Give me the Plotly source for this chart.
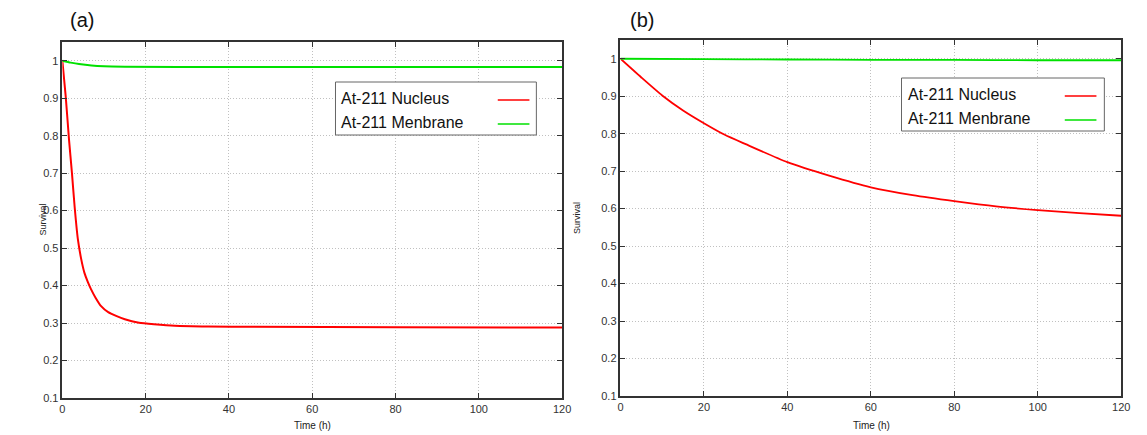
import plotly.graph_objects as go

# ---------------- data ----------------
# Panel (a)
a_nucleus_t = [0, 0.8, 1.6, 2.3, 2.94, 3.73, 4.5, 5.3, 6.1, 6.9, 8.0, 9.3, 11.0, 12.9, 15.0, 18.4, 22, 27, 35, 46, 80, 120]
a_nucleus_s = [1.0, 0.905, 0.789, 0.70, 0.611, 0.523, 0.472, 0.434, 0.410, 0.390, 0.367, 0.345, 0.329, 0.319, 0.310, 0.301, 0.297, 0.293, 0.291, 0.290, 0.289, 0.288]
a_membrane_t = [0, 2, 4, 7, 10, 15, 40, 80, 120]
a_membrane_s = [1.0, 0.995, 0.991, 0.987, 0.985, 0.984, 0.983, 0.983, 0.983]

# Panel (b)
b_nucleus_t = [0, 5, 10, 15, 20, 25, 30, 40, 50, 60, 70, 80, 90, 100, 110, 120]
b_nucleus_s = [1.0, 0.950, 0.902, 0.862, 0.828, 0.797, 0.772, 0.724, 0.688, 0.657, 0.636, 0.620, 0.606, 0.596, 0.588, 0.581]
b_membrane_t = [0, 20, 40, 60, 80, 100, 120]
b_membrane_s = [1.0, 0.999, 0.998, 0.997, 0.997, 0.996, 0.996]

series_names = ["At-211 Nucleus", "At-211 Menbrane"]
panel_titles = ["(a)", "(b)"]
x_title = "Time (h)"
y_title = "Survival"
x_ticks = [0, 20, 40, 60, 80, 100, 120]
y_ticks = [0.1, 0.2, 0.3, 0.4, 0.5, 0.6, 0.7, 0.8, 0.9, 1.0]

RED = "rgb(255,0,0)"
GREEN = "rgb(0,225,0)"

W, H = 1147, 435
MT, MB = 40, 37
PH = H - MT - MB


def px(x):
    return x / W


def py(y):
    return (H - MB - y) / PH


fig = go.Figure()

fig.add_trace(go.Scatter(x=a_nucleus_t, y=a_nucleus_s, mode="lines", line=dict(color=RED, width=2, shape="spline", smoothing=0.5),
                         name=series_names[0], xaxis="x", yaxis="y", showlegend=False))
fig.add_trace(go.Scatter(x=a_membrane_t, y=a_membrane_s, mode="lines", line=dict(color=GREEN, width=2, shape="spline", smoothing=0.5),
                         name=series_names[1], xaxis="x", yaxis="y", showlegend=False))
fig.add_trace(go.Scatter(x=b_nucleus_t, y=b_nucleus_s, mode="lines", line=dict(color=RED, width=1.8, shape="spline", smoothing=0.6),
                         name=series_names[0], xaxis="x2", yaxis="y2", showlegend=False))
fig.add_trace(go.Scatter(x=b_membrane_t, y=b_membrane_s, mode="lines", line=dict(color=GREEN, width=1.8, shape="spline", smoothing=0.6),
                         name=series_names[1], xaxis="x2", yaxis="y2", showlegend=False))

FONT = "Liberation Sans, Arial, sans-serif"
tickfont = dict(family=FONT, size=11, color="#333")

common_x = dict(range=[0, 120], tickvals=x_ticks, ticks="inside", ticklen=5, tickcolor="#333",
                showline=True, linecolor="#333", linewidth=1.5, mirror="ticks",
                showgrid=True, gridcolor="#c0c0c0", griddash="1px,2px", gridwidth=1,
                zeroline=False, tickfont=tickfont)
common_y = dict(range=[0.1, 1.05], tickvals=y_ticks, ticks="inside", ticklen=5, tickcolor="#333",
                showline=True, linecolor="#333", linewidth=1.5, mirror="ticks",
                showgrid=True, gridcolor="#c0c0c0", griddash="1px,2px", gridwidth=1,
                zeroline=False, tickfont=tickfont)

fig.update_layout(
    width=W, height=H,
    margin=dict(l=0, r=0, t=MT, b=MB),
    paper_bgcolor="white", plot_bgcolor="white",
    xaxis=dict(domain=[px(60), px(565)], anchor="y", **common_x),
    yaxis=dict(domain=[0, (H - MB - 42) / PH], anchor="x", **common_y),
    xaxis2=dict(domain=[px(624), px(1130)], anchor="y2", **common_x),
    yaxis2=dict(domain=[py(396), 1], anchor="x2", **common_y),
    showlegend=False,
    hovermode=False,
)

annotations = []
shapes = []

# panel titles
for cx, txt in [(80, panel_titles[0]), (646, panel_titles[1])]:
    annotations.append(dict(x=px(cx), y=py(20), xref="paper", yref="paper", text=txt, showarrow=False,
                            font=dict(family=FONT, size=20, color="#111"), xanchor="center", yanchor="middle"))
# axis titles
for cx in [313, 878]:
    annotations.append(dict(x=px(cx), y=py(425), xref="paper", yref="paper", text=x_title, showarrow=False,
                            font=dict(family=FONT, size=10, color="#222"), xanchor="center", yanchor="middle"))
for cx, cy in [(40, 220), (580, 218)]:
    annotations.append(dict(x=px(cx), y=py(cy), xref="paper", yref="paper", text=y_title, showarrow=False,
                            textangle=-90, font=dict(family=FONT, size=9, color="#222"),
                            xanchor="center", yanchor="middle"))

# custom legends (text on left, line sample on right)
legends = [
    dict(box=(336, 82, 539, 135), tx=340, rows=(98, 122), lx=(500, 532)),
    dict(box=(908, 78, 1113, 131), tx=913, rows=(94, 118), lx=(1073, 1105)),
]
for lg in legends:
    x0, y0, x1, y1 = lg["box"]
    shapes.append(dict(type="rect", xref="paper", yref="paper", x0=px(x0), x1=px(x1), y0=py(y1), y1=py(y0),
                       line=dict(color="#666", width=1), fillcolor="white", layer="above"))
    for name, color, ry in zip(series_names, [RED, GREEN], lg["rows"]):
        annotations.append(dict(x=px(lg["tx"]), y=py(ry), xref="paper", yref="paper", text=name, showarrow=False,
                                font=dict(family=FONT, size=16, color="#111"), xanchor="left", yanchor="middle"))
        shapes.append(dict(type="line", xref="paper", yref="paper", x0=px(lg["lx"][0]), x1=px(lg["lx"][1]),
                           y0=py(ry + 2), y1=py(ry + 2), line=dict(color=color, width=1.5), layer="above"))

fig.update_layout(annotations=annotations, shapes=shapes)

fig.write_html("out.html",
               config={"displayModeBar": False},
               post_script="document.body.style.margin='0';document.body.style.overflow='hidden';")
